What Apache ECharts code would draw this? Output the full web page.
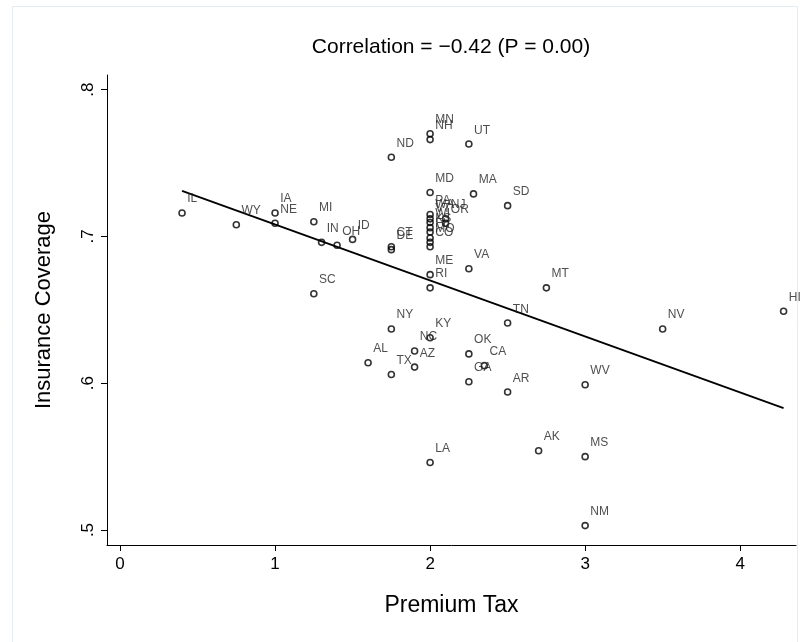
<!DOCTYPE html>
<html>
<head>
<meta charset="utf-8">
<script src="https://cdn.jsdelivr.net/npm/echarts@6/dist/echarts.min.js"></script>
<style>html,body{margin:0;padding:0;background:#fff}#c{width:804px;height:642px}</style>
</head>
<body>
<div id="c"></div>
<script>
const states = ['IL','WY','IA','NE','MI','IN','OH','ID','SC','CT','DE','ND','MN','NH','UT','MD','MA','SD',
  'PA','WA','VT','WI','KS','FL','MO','CO','NJ','OR',
  'ME','RI','VA','MT','TN','NV','HI','NY','NC','KY','AL','TX','AZ','OK','CA','GA','AR','LA','AK','MS','WV','NM'];
const premiumTax = [0.4,0.75,1.0,1.0,1.25,1.3,1.4,1.5,1.25,1.75,1.75,1.75,2.0,2.0,2.25,2.0,2.28,2.5,
  2.0,2.0,2.0,2.0,2.0,2.0,2.0,2.0,2.1,2.1,
  2.0,2.0,2.25,2.75,2.5,3.5,4.28,1.75,1.9,2.0,1.6,1.75,1.9,2.25,2.35,2.25,2.5,2.0,2.7,3.0,3.0,3.0];
const coverage = [0.716,0.708,0.716,0.709,0.710,0.696,0.694,0.698,0.661,0.693,0.691,0.754,0.770,0.766,0.763,0.730,0.729,0.721,
  0.715,0.712,0.7095,0.706,0.703,0.699,0.696,0.693,0.712,0.709,
  0.674,0.665,0.678,0.665,0.641,0.637,0.649,0.637,0.622,0.631,0.614,0.606,0.611,0.620,0.612,0.601,0.594,0.546,0.554,0.550,0.599,0.503];
const fitX = [0.4, 4.28];
const fitY = [0.731, 0.583];
const xTicks = [0,1,2,3,4];
const xTickLabels = ['0','1','2','3','4'];
const yTicks = [0.5,0.6,0.7,0.8];
const yTickLabels = ['.5','.6','.7','.8'];
const titleText = 'Correlation = \u22120.42 (P = 0.00)';
const xName = 'Premium Tax';
const yName = 'Insurance Coverage';

const FONT = '"Liberation Sans", Arial, Helvetica, sans-serif';
const chart = echarts.init(document.getElementById('c'), null, {renderer:'canvas'});
const pts = states.map((s,i)=>({name:s, value:[premiumTax[i], coverage[i]]}));
chart.setOption({
  animation:false,
  backgroundColor:'#fff',
  graphic:[{type:'rect', shape:{x:12.5,y:6.5,width:785,height:640}, style:{fill:'none', stroke:'#e4ecef', lineWidth:1}, silent:true, z:-1}],
  title:{text:titleText, left:446, top:32, textAlign:'center',
    textStyle:{fontFamily:FONT, fontSize:21, fontWeight:'normal', color:'#000'}},
  grid:{left:107, right:8, top:75, bottom:97, containLabel:false},
  xAxis:{type:'value', min:-0.084, max:4.36,
    name:xName, nameLocation:'middle', nameGap:49,
    nameTextStyle:{fontFamily:FONT, fontSize:23, color:'#000'},
    axisLine:{show:true, onZero:false, lineStyle:{color:'#000', width:1}},
    axisTick:{show:true, length:6, customValues:xTicks, lineStyle:{color:'#000'}},
    axisLabel:{customValues:xTicks, formatter:(v)=>xTickLabels[xTicks.indexOf(v)] ?? '', fontFamily:FONT, fontSize:17, color:'#000', margin:11},
    splitLine:{show:false}},
  yAxis:{type:'value', min:0.4898, max:0.81,
    name:yName, nameLocation:'middle', nameGap:52,
    nameTextStyle:{fontFamily:FONT, fontSize:22, color:'#000'},
    axisLine:{show:true, onZero:false, lineStyle:{color:'#000', width:1}},
    axisTick:{show:true, length:6, customValues:yTicks, lineStyle:{color:'#000'}},
    axisLabel:{customValues:yTicks, rotate:90, formatter:(v)=>{const i=yTicks.findIndex(t=>Math.abs(t-v)<1e-6);return i>=0?yTickLabels[i]:'';}, fontFamily:FONT, fontSize:17, color:'#000', margin:10},
    splitLine:{show:false}},
  series:[
    {type:'scatter', data:pts, symbol:'circle', symbolSize:6,
      itemStyle:{color:'rgba(0,0,0,0)', borderColor:'#000', borderWidth:1.6},
      label:{show:true, position:[9,-16], formatter:'{b}', fontFamily:FONT, fontSize:12, color:'#222'},
      labelLayout:{hideOverlap:false}, z:3},
    {type:'line', data:fitX.map((x,i)=>[x,fitY[i]]), symbol:'none',
      lineStyle:{color:'#000', width:1.8}, z:2}
  ]
});
</script>
</body>
</html>
